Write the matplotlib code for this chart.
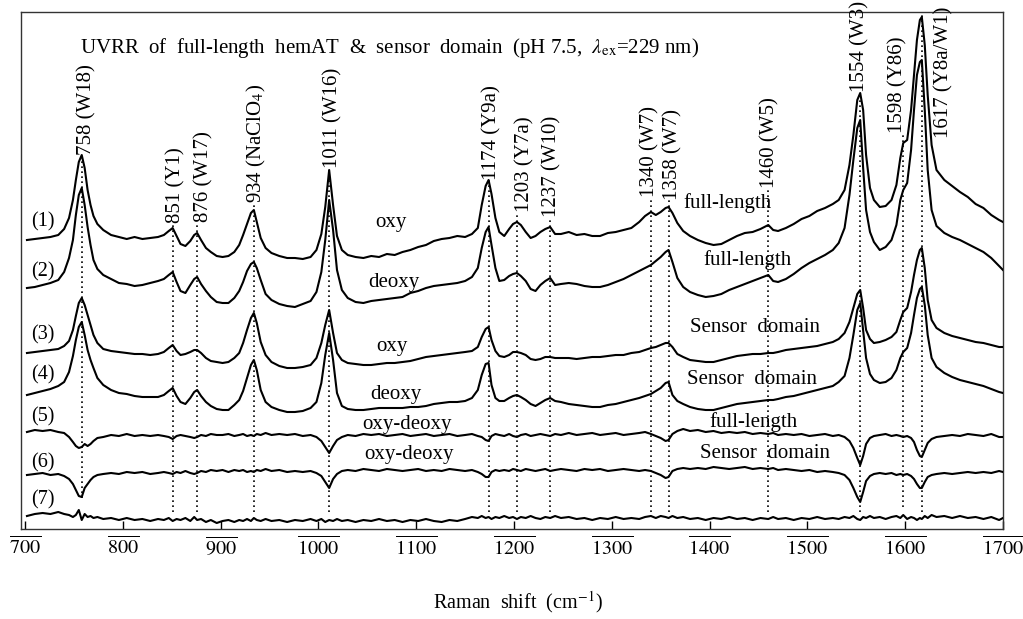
import numpy as np
import matplotlib
matplotlib.use("Agg")
import matplotlib.pyplot as plt

plt.rcParams['font.family'] = ['Liberation Serif', 'DejaVu Serif']
plt.rcParams['mathtext.fontset'] = 'stix'

# Raman shift grid (cm^-1)
wavenumber = [702,710,718,726,734,740,745,749,752,755,758,761,764,767,770,774,
              780,788,796,804,812,820,828,836,842,847,851,
              855,859,864,869,873,876,880,885,890,896,902,908,914,919,923,927,931,934,
              937,941,946,952,960,968,976,984,992,998,1003,1007,1011,
              1015,1019,1024,1030,1038,1046,1054,1062,1070,1078,1086,1094,1102,1110,1118,1126,1134,1142,1150,1157,1163,1167,1171,1174,
              1177,1181,1185,1190,1195,1199,1203,1207,1212,1217,1222,1227,1232,1237,
              1242,1248,1256,1264,1272,1280,1288,1296,1304,1312,1320,1328,1334,1340,1345,1350,1355,1358,
              1362,1367,1373,1380,1388,1396,1404,1412,1420,1428,1436,1444,1452,1460,
              1465,1470,1478,1486,1494,1502,1510,1518,1526,1532,1538,1543,1547,1551,1554,
              1557,1560,1564,1568,1574,1580,1586,1591,1595,1598,1602,1606,1609,1612,1615,1617,
              1620,1623,1627,1632,1640,1648,1656,1664,1672,1680,1688,1696,1700]

# (1) oxy, full-length
spec1 = [289,290,291,292,294,300,311,329,349,367,374,361,339,324,313,305,
         299,294,292,290,292,290,291,292,294,298,301,
         293,285,283,288,294,296,289,281,277,273,272,273,277,284,294,305,316,319,
         307,291,281,276,273,271,271,270,272,279,295,322,359,
         324,293,279,274,272,271,273,272,275,274,277,279,282,284,288,290,291,293,292,295,301,324,343,349,
         335,311,297,293,300,305,307,304,297,291,293,297,300,302,
         295,295,297,294,295,293,293,296,297,299,301,307,313,317,314,317,321,322,
         316,306,298,293,289,286,284,285,289,293,296,297,300,304,
         299,298,301,305,310,313,318,321,325,329,339,364,394,429,436,
         419,374,341,329,322,323,329,344,371,386,389,419,454,489,509,512,
         484,434,384,359,349,343,337,332,325,321,314,309,307]

# (2) deoxy, full-length
spec2 = [241,242,244,246,249,257,271,289,314,334,341,324,302,284,269,260,
         254,250,246,245,243,244,246,248,250,254,257,
         247,238,236,244,250,252,245,238,232,227,226,226,231,238,247,258,265,267,
         261,249,235,229,225,223,222,225,228,237,257,289,329,
         299,259,239,231,227,226,228,229,230,231,232,236,238,241,243,244,245,246,248,252,261,281,297,302,
         284,261,248,249,253,255,256,253,248,240,238,244,248,251,
         244,245,246,245,243,242,242,244,247,250,254,258,261,264,268,272,277,279,
         267,251,242,237,234,232,233,235,239,242,245,248,251,254,
         248,247,250,255,261,266,270,274,279,286,301,334,369,401,409,
         361,319,297,287,279,282,289,304,329,339,346,379,419,454,467,469,
         419,359,319,303,296,292,289,285,281,277,271,263,259]

# (3) oxy, sensor domain
spec3 = [176,177,178,179,180,183,188,199,213,226,231,224,214,204,194,186,
         180,178,177,176,175,175,174,175,177,181,184,
         178,174,175,177,179,179,176,171,168,167,166,167,171,176,186,199,211,216,
         206,187,174,167,163,161,161,162,164,171,186,204,219,
         196,176,169,166,165,164,164,165,166,166,167,168,170,172,173,174,175,176,177,178,182,192,200,202,
         189,178,173,172,174,177,177,176,174,170,169,170,172,172,
         171,171,171,170,171,172,172,173,174,174,176,177,179,181,182,184,186,186,
         182,175,172,169,168,167,167,169,171,173,174,175,175,176,
         176,177,179,180,181,182,183,185,187,190,196,207,221,235,239,
         221,199,190,186,187,189,192,197,209,217,221,237,254,269,279,281,
         261,229,209,201,196,193,191,189,187,186,184,182,182]

# (4) deoxy, sensor domain
spec4 = [134,136,138,140,143,147,157,173,189,202,207,194,179,169,161,151,
         144,139,136,135,133,132,132,132,134,138,141,
         133,127,125,131,137,139,133,127,123,120,119,119,124,129,138,151,164,169,
         159,139,127,122,119,117,117,118,121,127,146,174,196,
         169,136,123,120,119,119,120,121,121,121,121,122,122,123,125,126,127,127,128,131,139,154,165,166,
         144,131,128,128,131,133,134,132,129,125,123,126,129,131,
         128,127,125,124,123,122,122,124,125,127,129,131,133,135,138,141,146,147,
         134,128,125,122,120,119,119,121,123,125,126,127,128,129,
         129,130,132,133,135,137,139,141,143,147,153,171,194,219,226,
         199,171,155,149,146,147,151,159,171,177,181,196,214,231,240,242,
         224,194,171,162,156,152,149,147,145,143,140,137,136]

# (5) oxy - deoxy, full-length
spec5 = [97,99,98,99,97,96,92,87,83,81,82,85,83,85,88,91,
         92,94,93,95,93,94,93,94,93,92,90,
         93,94,93,92,91,92,94,93,95,94,94,95,93,94,95,93,94,93,
         95,94,96,94,95,94,95,93,94,92,88,82,76,
         83,89,92,94,93,95,94,95,93,94,95,93,94,95,93,94,95,93,94,95,93,92,89,88,
         93,95,94,93,95,93,92,94,95,93,94,95,94,93,
         95,94,96,94,95,96,94,95,96,94,95,96,97,95,93,91,88,89,
         95,98,100,98,99,97,98,96,97,96,97,95,96,95,
         96,94,95,94,95,93,94,95,93,94,92,88,81,71,64,
         73,85,91,93,94,95,93,94,93,92,93,91,87,79,73,72,
         79,86,90,92,93,94,93,95,94,93,95,92,92]

# (6) oxy - deoxy, sensor domain
spec6 = [54,55,56,54,55,53,50,45,39,33,32,41,45,49,52,54,
         55,56,55,57,56,57,55,56,57,56,55,
         57,56,58,56,55,56,58,57,59,58,59,57,59,58,59,57,58,57,
         59,58,60,58,59,57,58,57,58,56,53,47,41,
         50,55,58,59,58,60,59,58,60,59,58,59,60,58,59,58,60,59,58,59,57,55,52,52,
         57,59,58,59,58,60,59,58,60,59,58,59,60,58,
         59,60,59,58,60,59,60,58,59,60,59,58,59,58,56,54,51,52,
         58,60,61,60,61,60,62,61,60,61,62,60,61,60,
         61,59,60,59,58,59,57,58,57,56,54,49,41,32,27,
         37,48,53,55,56,55,56,54,55,54,55,53,50,45,41,41,
         47,52,54,55,56,55,56,57,56,57,56,58,57]

# (7) difference of differences
spec7 = [13,15,16,15,17,15,14,12,14,19,9,15,12,13,11,12,
         10,11,9,11,9,10,8,10,9,11,8,
         10,9,11,8,12,9,10,7,9,6,8,9,7,9,8,10,8,11,
         9,8,10,8,9,7,9,8,10,8,10,7,9,
         8,10,8,9,7,9,8,10,8,9,7,9,8,10,8,7,9,8,10,12,11,13,11,12,
         10,12,11,13,11,12,10,12,11,13,11,10,12,11,
         13,11,12,10,11,9,11,10,12,10,11,10,12,13,11,13,12,11,
         13,11,12,10,11,9,11,10,12,10,11,9,11,10,
         12,10,11,9,11,10,12,10,11,10,12,11,13,10,9,
         12,11,13,11,12,10,12,13,11,14,10,12,11,9,11,10,
         13,11,14,12,13,11,13,11,12,10,12,9,11]

spectra = [spec1, spec2, spec3, spec4, spec5, spec6, spec7]

# Band assignments
band_positions = [758, 851, 876, 934, 1011, 1174, 1203, 1237, 1340, 1358, 1460, 1554, 1598, 1617]
band_labels = ["758 (W18)", "851 (Y1)", "876 (W17)", "934 (NaClO$_4$)", "1011 (W16)",
               "1174 (Y9a)", "1203 (Y7a)", "1237 (W10)", "1340 (W7)", "1358 (W7)",
               "1460 (W5)", "1554 (W3)", "1598 (Y86)", "1617 (Y8a/W1)"]
trace_numbers = ["(1)", "(2)", "(3)", "(4)", "(5)", "(6)", "(7)"]
trace_states = ["oxy", "deoxy", "oxy", "deoxy", "oxy-deoxy", "oxy-deoxy"]
trace_samples = ["full-length", "full-length", "Sensor  domain", "Sensor  domain",
                 "full-length", "Sensor  domain"]
tick_values = [700, 800, 900, 1000, 1100, 1200, 1300, 1400, 1500, 1600, 1700]

# ---- layout / style ----
W, H = 1023, 619
fig = plt.figure(figsize=(W / 100, H / 100), dpi=100)
ax = fig.add_axes([21 / W, 90 / H, 982 / W, 517 / H])
ax.set_xlim(695.9, 1700)
ax.set_ylim(0, 517)

for s in spectra:
    ax.plot(wavenumber, s, color='black', lw=1.5, zorder=3)

# dotted marker lines
line_tops = [374, 306, 307, 326, 361, 349, 317, 312, 332, 329, 341, 437, 396, 516]
line_bottoms = [31, 17, 17, 17, 17, 17, 17, 17, 17, 17, 17, 17, 22, 17]
for xp, yt, yb in zip(band_positions, line_tops, line_bottoms):
    ax.plot([xp, xp], [yb, yt], color='black', lw=1.2, linestyle=(0, (1, 2)), zorder=2)

# band labels (rotated)
label_x = [763, 854.5, 883, 937, 1015, 1177, 1211, 1239, 1339, 1362.6, 1462, 1554, 1592, 1640]
label_y = [374, 306, 307, 326, 361, 349, 317, 312, 332, 329, 341, 437, 396, 391]
for lx, ly, t in zip(label_x, label_y, band_labels):
    ax.text(lx, ly, t, rotation=90, ha='center', va='bottom', fontsize=15, zorder=4)

# trace numbers
num_y = [307, 257, 194, 154, 112, 66, 29]
for ny, t in zip(num_y, trace_numbers):
    ax.text(718.4, ny, t, ha='center', va='center', fontsize=14.5)

state_x = [1074, 1077, 1075, 1079, 1090.6, 1092.6]
state_y = [306, 246, 182, 134, 105, 74]
for sx, sy, t in zip(state_x, state_y, trace_states):
    ax.text(sx, sy, t, ha='center', va='center', fontsize=15)

sample_x = [1418.8, 1439, 1446.4, 1443, 1445.4, 1456.7]
sample_y = [326, 269, 202, 149, 107, 76]
for sx, sy, t in zip(sample_x, sample_y, trace_samples):
    ax.text(sx, sy, t, ha='center', va='center', fontsize=15)

ax.text(756, 481, r"UVRR  of  full-length  hemAT  &  sensor  domain  (pH 7.5,  $\lambda_{\mathrm{ex}}$=229 nm)",
        ha='left', va='center', fontsize=15)

# axes styling
for sp in ax.spines.values():
    sp.set_linewidth(1.0)
    sp.set_color('#333333')
ax.set_yticks([])
ax.set_xticks(tick_values)
ax.set_xticklabels([r"$\overline{\mathrm{%d}}$" % v for v in tick_values], fontsize=14.5)
ax.tick_params(axis='x', direction='in', length=6, width=1.0, pad=5)

fig.text(518 / W, 1 - 602 / H, r"Raman  shift  (cm$^{-1}$)", ha='center', va='center', fontsize=14.5)

fig.savefig("out.png", dpi=100)
